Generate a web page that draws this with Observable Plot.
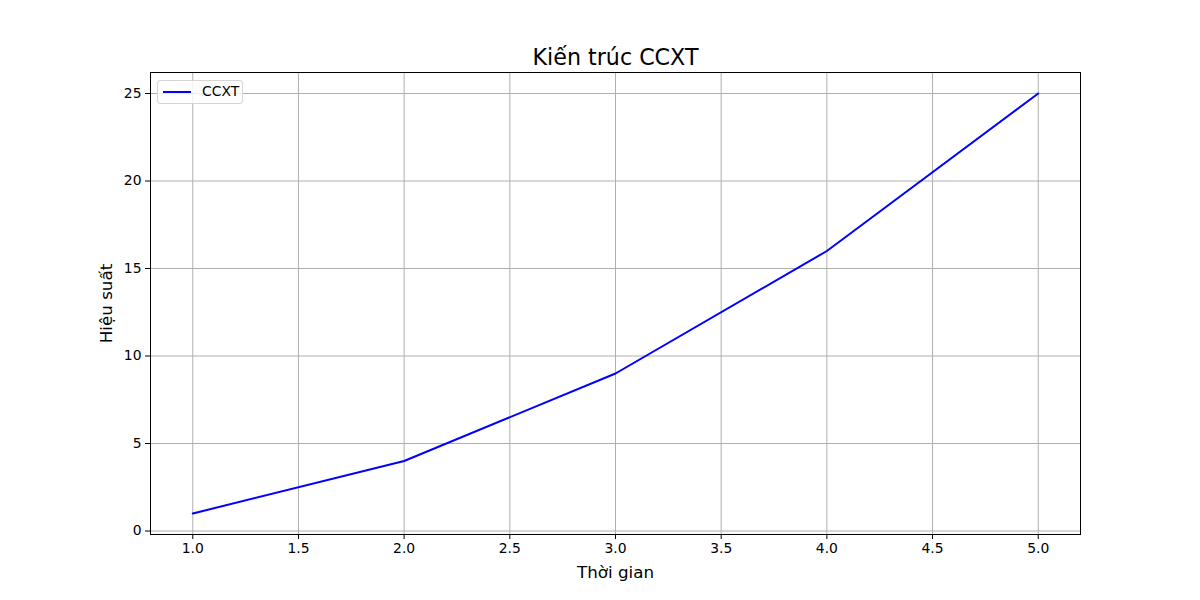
<!DOCTYPE html>
<html>
<head>
<meta charset="utf-8">
<script src="https://cdn.jsdelivr.net/npm/d3@7"></script>
<script src="https://cdn.jsdelivr.net/npm/@observablehq/plot@0.6"></script>
<style>
  html, body { margin: 0; padding: 0; background: #fff; }
  #wrap { position: relative; width: 1200px; height: 600px; font-family: "DejaVu Sans", sans-serif; }
  #legend {
    position: absolute; left: 157px; top: 80px; width: 86px; height: 24px;
    border: 1px solid #d5d5d5; border-radius: 3px; background: rgba(255,255,255,0.8);
    box-sizing: border-box;
  }
  #legend .swatch { position: absolute; left: 5px; top: 10px; width: 28px; height: 2px; background: #0000ff; }
  #legend .lab { position: absolute; left: 44px; top: 2px; font-size: 13.9px; color: #000; line-height: 17px; }
</style>
</head>
<body>
<div id="wrap"><div id="chart"></div>
  <div id="legend"><div class="swatch"></div><div class="lab"></div></div>
</div>
<script>
const title = "Kiến trúc CCXT";
const xLabel = "Thời gian";
const yLabel = "Hiệu suất";
const seriesName = "CCXT";
const xValues = [1, 2, 3, 4, 5];
const yValues = [1, 4, 9, 16, 25];
const xTicks = [1.0, 1.5, 2.0, 2.5, 3.0, 3.5, 4.0, 4.5, 5.0];
const yTicks = [0, 5, 10, 15, 20, 25];

const data = xValues.map((x, i) => ({x, y: yValues[i]}));
const font = "DejaVu Sans, sans-serif";

const chart = Plot.plot({
  width: 1200,
  height: 600,
  marginLeft: 150,
  marginRight: 120,
  marginTop: 72,
  marginBottom: 66,
  style: {fontFamily: font, background: "#fff", color: "#000"},
  x: {domain: [0.8, 5.2]},
  y: {domain: [-0.2, 26.2]},
  marks: [
    Plot.gridX(xTicks, {stroke: "#b0b0b0", strokeOpacity: 1, strokeWidth: 1}),
    Plot.gridY(yTicks, {stroke: "#b0b0b0", strokeOpacity: 1, strokeWidth: 1}),
    Plot.line(data, {x: "x", y: "y", stroke: "#0000ff", strokeWidth: 2}),
    Plot.frame({stroke: "#000", strokeWidth: 1}),
    Plot.axisX(xTicks, {tickFormat: d3.format(".1f"), tickSize: 5, tickPadding: 4, fontSize: 13.9, label: null, stroke: "#000"}),
    Plot.axisY(yTicks, {tickSize: 5, tickPadding: 4, fontSize: 13.9, label: null, stroke: "#000"}),
    Plot.text([title], {frameAnchor: "top", lineAnchor: "middle", dy: -15, fontSize: 22.2, text: d => d, fill: "#000"}),
    Plot.text([xLabel], {frameAnchor: "bottom", lineAnchor: "middle", dy: 38, fontSize: 16.7, text: d => d, fill: "#000"}),
    Plot.text([yLabel], {frameAnchor: "left", textAnchor: "middle", lineAnchor: "middle", dx: -44, rotate: -90, fontSize: 16.7, text: d => d, fill: "#000"})
  ]
});
document.getElementById("chart").appendChild(chart);
document.querySelector("#legend .lab").textContent = seriesName;
</script>
</body>
</html>
